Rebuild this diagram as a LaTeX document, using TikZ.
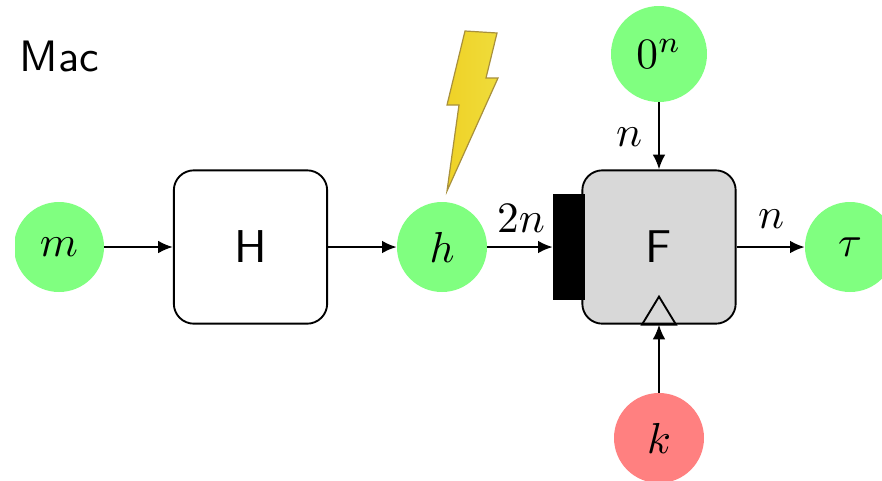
\documentclass[tikz,border=0pt]{standalone}
\usetikzlibrary{arrows.meta,calc}
\tikzset{
  x=0.75pt,y=-0.75pt,
  val/.style={circle,fill=#1,draw=none,minimum size=67.5pt,inner sep=0pt},
  bigm/.style={scale=3.25,inner sep=0pt},
  block/.style={draw=black,line width=1.4pt,rounded corners=15pt,minimum width=115pt,minimum height=115pt,inner sep=0pt},
  conn/.style={draw=black,line width=1.6pt,-{Latex[length=11pt,width=9.5pt]},shorten >=0pt,shorten <=0pt},
  lbl/.style={scale=3.25,inner sep=0pt},
  blocktext/.style={font=\sffamily,scale=3.45,inner sep=0pt},
}
\definecolor{vgreen}{HTML}{80FF80}
\definecolor{vred}{HTML}{FF8080}
\definecolor{fgray}{HTML}{D8D8D8}
\definecolor{boltfill}{HTML}{EED92A}
\definecolor{boltedge}{HTML}{A8903C}
\begin{document}
\begin{tikzpicture}
\useasboundingbox (0,0) rectangle (882,480);
\fill[white] (0,0) rectangle (882,480);
\node[font=\sffamily,scale=3.3,inner sep=0pt] (title) at (59.5,56.5) {Mac};
\begin{scope}
\clip (15,190) rectangle (120,300);
\node[val=vgreen] (m) at (59,247) {};
\end{scope}
\node[bigm] at (m.center) {$m$};
\node[val=vgreen] (h) at (442,247) {};
\node[bigm] at (h.center) {$h$};
\node[val=vgreen] (t) at (850,247) {};
\node[bigm] at (t.center) {$\tau$};
\node[val=vgreen,minimum size=72pt] (z) at (659,54) {};
\node[bigm] at (z.center) {$0^n$};
\node[val=vred] (k) at (659,438) {};
\node[bigm] at (k.center) {$k$};
\node[block,fill=white] (H) at (250.5,247) {};
\node[blocktext] at (H.center) {H};
\node[block,fill=fgray] (F) at (659,247) {};
\node[blocktext] at (F.center) {F};
\node[fill=black,draw=none,minimum width=24pt,minimum height=79.5pt,inner sep=0pt] (bar) at (569,247) {};
\coordinate (tl) at ($(F.south)+(-17,0)$);
\coordinate (tr) at ($(F.south)+(17,0)$);
\coordinate (ta) at ($(F.south)+(0,-28)$);
\draw[line width=1.4pt,line join=miter] (tl) -- (ta) -- (tr) -- cycle;
\draw[conn] (m) -- (H);
\draw[conn] (H) -- (h);
\draw[conn] (h) -- (bar);
\draw[conn] (F) -- (t);
\draw[conn] (z) -- (F);
\draw[conn] (k) -- (F.south);
\node[lbl] at (521,219) {$2n$};
\node[lbl] at (771,219) {$n$};
\node[lbl] at (629,137) {$n$};
\shade[left color=boltfill!92!orange,right color=boltfill!92!white,draw=boltedge,line width=0.9pt,line join=miter]
  (465,31) -- (497,33) -- (486,78) -- (498,78) -- (447,191) -- (459,105) -- (447,105) -- cycle;
\end{tikzpicture}
\end{document}
